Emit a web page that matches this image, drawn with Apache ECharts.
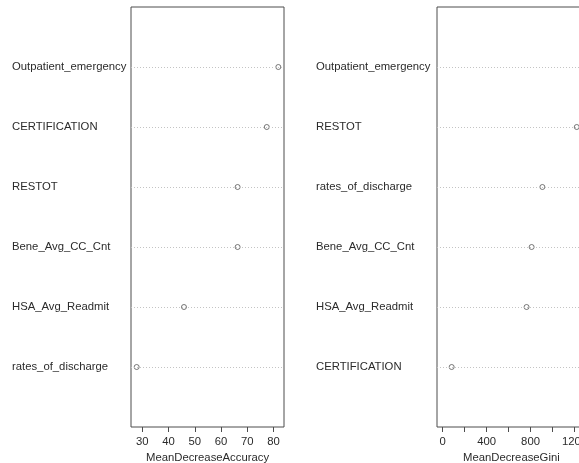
<!DOCTYPE html>
<html>
<head>
<meta charset="utf-8">
<script src="https://cdn.jsdelivr.net/npm/echarts@6/dist/echarts.min.js"></script>
<style>
  html, body { margin: 0; padding: 0; background: #fff; }
  #chart { width: 579px; height: 463px; }
</style>
</head>
<body>
<div id="chart"></div>
<script>
// Variable importance from the random forest, one dot chart per measure.
// Variables are listed bottom-to-top (least to most important).
const accNames = ['rates_of_discharge', 'HSA_Avg_Readmit', 'Bene_Avg_CC_Cnt', 'RESTOT', 'CERTIFICATION', 'Outpatient_emergency'];
const accValues = [27.9, 45.9, 66.3, 66.3, 77.4, 81.8];

const giniNames = ['CERTIFICATION', 'HSA_Avg_Readmit', 'Bene_Avg_CC_Cnt', 'rates_of_discharge', 'RESTOT', 'Outpatient_emergency'];
const giniValues = [82, 764, 810, 908, 1221, 1290];

const accTicks = [30, 40, 50, 60, 70, 80];
const giniTicks = [0, 200, 400, 600, 800, 1000, 1200];
const giniTickLabels = [0, 400, 800, 1200];

const FONT = "'Liberation Sans', Arial, sans-serif";
const FS = 11.3;
const TEXT = '#2b2b2b';
const FRAME = '#4d4d4d';

// R-style 4% range extension on each side
function padRange(lo, hi) {
  const ext = (hi - lo) * 0.04;
  return [lo - ext, hi + ext];
}
const accRange = padRange(Math.min(...accValues), Math.max(...accValues));
const giniRange = padRange(0, Math.max(...giniValues));

const rows = accNames.map((_, i) => i + 1);

function yAxisFor(gridIndex, names, margin) {
  return {
    type: 'value', gridIndex, min: 0, max: rows.length + 1,
    axisLine: { show: false }, axisTick: { show: false }, splitLine: { show: false },
    axisLabel: {
      customValues: rows,
      formatter: v => names[v - 1] || '',
      align: 'left', margin,
      color: TEXT, fontSize: FS, fontFamily: FONT
    }
  };
}

function xAxisFor(gridIndex, range, ticks, labels, name) {
  return {
    type: 'value', gridIndex, min: range[0], max: range[1],
    axisLine: { show: false }, splitLine: { show: false },
    axisTick: { show: true, customValues: ticks, length: 5, lineStyle: { color: FRAME } },
    axisLabel: {
      customValues: labels, margin: 9, color: TEXT, fontSize: FS, fontFamily: FONT,
      formatter: v => String(v)
    },
    name, nameLocation: 'middle', nameGap: 25,
    nameTextStyle: { color: TEXT, fontSize: FS, fontFamily: FONT }
  };
}

function dotSeries(idx, values) {
  return {
    type: 'scatter', xAxisIndex: idx, yAxisIndex: idx,
    data: values.map((v, i) => [v, i + 1]),
    symbol: 'circle', symbolSize: 5,
    itemStyle: { color: '#fff', borderColor: '#555', borderWidth: 1 },
    markLine: {
      silent: true, symbol: ['none', 'none'], label: { show: false },
      lineStyle: { type: [1, 2], color: '#c4c4c4', width: 1 },
      data: rows.map(r => ({ yAxis: r }))
    },
    z: 3
  };
}

const chart = echarts.init(document.getElementById('chart'), null, { renderer: 'canvas' });
chart.setOption({
  animation: false,
  backgroundColor: '#fff',
  grid: [
    { left: 131, top: 7, width: 153, height: 420, outerBoundsMode: 'none', containLabel: false,
      show: true, borderColor: FRAME, borderWidth: 1, backgroundColor: 'transparent' },
    { left: 437, top: 7, width: 153, height: 420, outerBoundsMode: 'none', containLabel: false,
      show: true, borderColor: FRAME, borderWidth: 1, backgroundColor: 'transparent' }
  ],
  xAxis: [
    xAxisFor(0, accRange, accTicks, accTicks, 'MeanDecreaseAccuracy'),
    xAxisFor(1, giniRange, giniTicks, giniTickLabels, '')
  ],
  yAxis: [
    yAxisFor(0, accNames, 119),
    yAxisFor(1, giniNames, 121)
  ],
  graphic: [{
    type: 'text', left: 463, top: 452,
    style: { text: 'MeanDecreaseGini', fill: TEXT, font: FS + "px 'Liberation Sans', Arial, sans-serif" }
  }],
  series: [dotSeries(0, accValues), dotSeries(1, giniValues)]
});
</script>
</body>
</html>
